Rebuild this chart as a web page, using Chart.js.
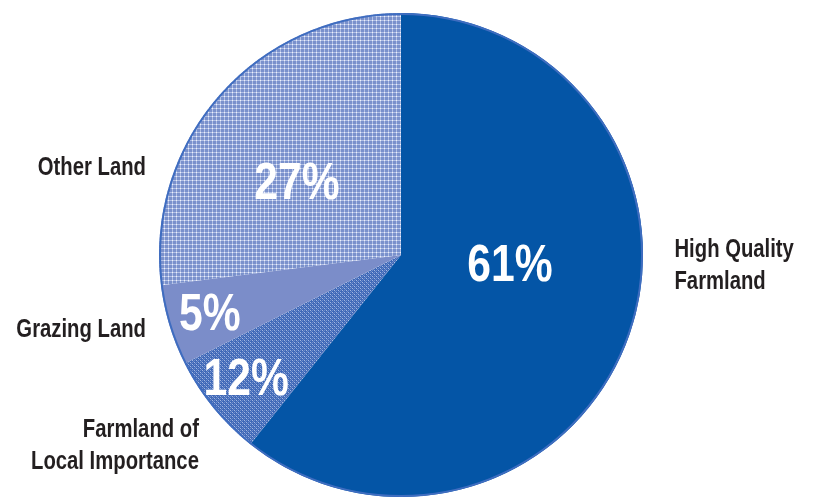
<!DOCTYPE html>
<html lang="en">

<head>
    <meta charset="UTF-8">
    <meta name="viewport" content="width=device-width, initial-scale=1.0">
    <title>Land Use</title>

    <script src="https://cdn.jsdelivr.net/npm/chart.js"></script>

    <style>
        body {
            margin: 0;
            background: #ffffff;
        }

        .grafico {
            width: 815px;
            height: 497px;
        }
    </style>
</head>

<body>
    <div class="grafico">
        <canvas id="myChart" width="815" height="497"></canvas>
    </div>
</body>

</html>

<script>
    // categorias e valores (tamanho das fatias como desenhadas)
    const categorias = ['High Quality Farmland', 'Farmland of Local Importance', 'Grazing Land', 'Other Land'];
    const valores = [60.7, 6.9, 5.4, 27.0];
    // textos de porcentagem impressos em cada fatia
    const rotulosPct = ['61%', '12%', '5%', '27%'];
    // nomes que aparecem fora da pizza (uma linha por item)
    const rotulosNome = [['High Quality', 'Farmland'], ['Farmland of', 'Local Importance'], ['Grazing Land'], ['Other Land']];

    const fonte = '"Liberation Sans", Arial, sans-serif';

    // padrao de pontos para Other Land
    function padraoOutros() {
        let c = document.createElement('canvas');
        c.width = 4;
        c.height = 4;
        let g = c.getContext('2d');
        g.fillStyle = '#7a91cc';
        g.fillRect(0, 0, 4, 4);
        g.fillStyle = '#b2c0e6';
        g.fillRect(0, 0, 4, 1);
        g.fillRect(0, 0, 1, 4);
        g.fillStyle = '#eef2fa';
        g.fillRect(0, 0, 1, 1);
        return g.createPattern(c, 'repeat');
    }

    // padrao mais escuro para Farmland of Local Importance
    function padraoLocal() {
        let c = document.createElement('canvas');
        c.width = 4;
        c.height = 4;
        let g = c.getContext('2d');
        g.fillStyle = '#3f69b8';
        g.fillRect(0, 0, 4, 4);
        g.fillStyle = '#a3b7e2';
        g.fillRect(0, 0, 1, 1);
        g.fillRect(2, 2, 1, 1);
        g.fillStyle = '#6e8bca';
        g.fillRect(1, 1, 1, 1);
        g.fillRect(3, 3, 1, 1);
        g.fillRect(2, 0, 1, 1);
        g.fillRect(0, 2, 1, 1);
        return g.createPattern(c, 'repeat');
    }

    const cores = ['#0455a6', padraoLocal(), '#7b8dc9', padraoOutros()];

    // posicao dos rotulos relativa ao centro, em fracoes do raio
    const posPct = [[0.45, 0.05], [-0.64, 0.52], [-0.79, 0.25], [-0.43, -0.29]];
    const posNome = [[1.13, 0.043, 'left'], [-0.835, 0.79, 'right'], [-1.054, 0.31, 'right'], [-1.054, -0.36, 'right']];

    // texto condensado (escala horizontal)
    function textoEstreito(ctx, txt, x, y, escala) {
        ctx.save();
        ctx.translate(x, y);
        ctx.scale(escala, 1);
        ctx.fillText(txt, 0, 0);
        ctx.restore();
    }

    const pluginRotulos = {
        id: 'rotulos',
        afterDatasetsDraw(chart) {
            const ctx = chart.ctx;
            const arco = chart.getDatasetMeta(0).data[0];
            const cx = arco.x;
            const cy = arco.y;
            const r = arco.outerRadius;

            // contorno externo
            ctx.save();
            ctx.beginPath();
            ctx.arc(cx, cy, r - 1, 0, Math.PI * 2);
            ctx.strokeStyle = '#3f6dc0';
            ctx.lineWidth = 2;
            ctx.stroke();

            // porcentagens
            ctx.fillStyle = '#ffffff';
            ctx.font = 'bold 52px ' + fonte;
            ctx.textAlign = 'center';
            ctx.textBaseline = 'middle';
            for (let i = 0; i < rotulosPct.length; i++) {
                textoEstreito(ctx, rotulosPct[i], cx + posPct[i][0] * r, cy + posPct[i][1] * r, 0.82);
            }

            // nomes
            ctx.fillStyle = '#231f20';
            ctx.font = 'bold 26px ' + fonte;
            for (let i = 0; i < rotulosNome.length; i++) {
                let linhas = rotulosNome[i];
                ctx.textAlign = posNome[i][2];
                let y0 = cy + posNome[i][1] * r - (linhas.length - 1) * 16;
                for (let j = 0; j < linhas.length; j++) {
                    textoEstreito(ctx, linhas[j], cx + posNome[i][0] * r, y0 + j * 32, 0.78);
                }
            }
            ctx.restore();
        }
    };

    const config = {
        type: 'pie',
        data: {
            labels: categorias,
            datasets: [{
                data: valores,
                backgroundColor: cores,
                borderWidth: 0
            }]
        },
        options: {
            responsive: false,
            animation: false,
            layout: {
                padding: { left: 159, right: 172, top: 13, bottom: 0 }
            },
            plugins: {
                legend: { display: false },
                tooltip: { enabled: false }
            }
        },
        plugins: [pluginRotulos]
    };

    let myChart = new Chart(document.getElementById('myChart'), config);
</script>
